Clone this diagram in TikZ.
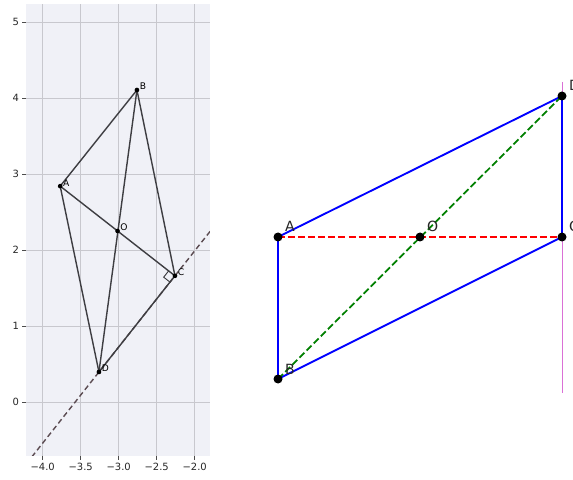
\documentclass[tikz,border=0pt]{standalone}
\usepackage{fontspec}
\setmainfont{DejaVu Sans}
\usetikzlibrary{calc}

\definecolor{axbg}{RGB}{240,241,247}
\definecolor{gridc}{RGB}{200,200,206}
\definecolor{segc}{RGB}{62,62,66}
\definecolor{dashc}{RGB}{92,76,82}
\definecolor{orch}{RGB}{218,112,214}

\begin{document}
\begin{tikzpicture}[
  x=0.03cm, y=0.03cm,
  tick/.style={font=\fontsize{8.5}{9}\selectfont, inner sep=0pt, text=black!85},
  ptlab/.style={font=\fontsize{7.8}{8}\selectfont, inner sep=0pt, anchor=base west, xshift=0.08cm},
  biglab/.style={font=\fontsize{12}{14}\selectfont, inner sep=0pt, anchor=base west, xshift=0.21cm, yshift=0.15cm, text=black!85},
  seg/.style={segc, line width=1.2pt},
  side/.style={blue, line width=1.6pt},
  dsh/.style={line width=1.5pt, dash pattern=on 6pt off 2.6pt},
  dot/.style={fill=black},
]
\useasboundingbox (0,0) rectangle (573,479);
\fill[white] (0,0) rectangle (573,479);

% ===== LEFT: plot with the parallelogram =====
\begin{scope}[shift={(10.401cm,2.31cm)}, x=2.28cm, y=2.28cm]
\fill[axbg] (-4.22,-0.71) rectangle (-1.80,5.24);
\foreach \x/\t in {-4/−4.0,-3.5/−3.5,-3/−3.0,-2.5/−2.5,-2/−2.0}{
  \draw[gridc, line width=0.8pt] (\x,-0.71) -- (\x,5.24);
  \draw[black!70, line width=0.6pt] (\x,-0.71) -- ++(0,-0.12cm);
  \node[tick, anchor=north] (tx\x) at ([yshift=-0.21cm]\x,-0.71) {\t};
}
\foreach \y in {0,...,5}{
  \draw[gridc, line width=0.8pt] (-4.22,\y) -- (-1.80,\y);
  \draw[black!70, line width=0.6pt] (-4.22,\y) -- ++(-0.12cm,0);
  \node[tick, anchor=east] (ty\y) at ([xshift=-0.2cm]-4.22,\y) {\y};
}

\coordinate (A) at (-3.77,2.84);
\coordinate (B) at (-2.76,4.105);
\coordinate (C) at (-2.26,1.66);
\coordinate (D) at (-3.26,0.395);
\coordinate (O) at ($(A)!0.5!(C)$);

% line through D and C
\begin{scope}
\clip (-4.22,-0.71) rectangle (-1.80,5.24);
\coordinate (e1) at ($(D)!-2!(C)$);
\coordinate (e2) at ($(D)!3!(C)$);
\draw[dashc, line width=1.2pt, dash pattern=on 4.5pt off 2.8pt] (e1) -- (e2);
\end{scope}

\draw[seg] (A) -- (B) -- (C) -- (D) -- cycle;
\draw[seg] (A) -- (C);
\draw[seg] (B) -- (D);

% right angle at C
\coordinate (ca) at ($(C)!0.24cm!(A)$);
\coordinate (cd) at ($(C)!0.24cm!(D)$);
\draw[segc, line width=0.8pt] (ca) -- ($(ca)+(cd)-(C)$) -- (cd);

\foreach \p in {A,B,C,D,O}{
  \fill[dot] (\p) circle (0.07cm);
  \node[ptlab] (l\p) at (\p) {\p};
}
\end{scope}

% ===== RIGHT: the same points, redrawn =====
\coordinate (A2) at (278,242);
\coordinate (B2) at (278,100);
\coordinate (C2) at (562,242);
\coordinate (D2) at (562,383);
\coordinate (O2) at (420,242);
\coordinate (v1) at (562,397);
\coordinate (v2) at (562,86);

\draw[orch, line width=0.8pt] (v1) -- (v2);
\draw[side] (A2) -- (D2);
\draw[side] (A2) -- (B2);
\draw[side] (B2) -- (C2);
\draw[side] (C2) -- (D2);
\draw[dsh, red] (A2) -- (C2);
\draw[dsh, green!50!black] (B2) -- (D2);

\foreach \p in {A,B,C,D,O}{
  \fill[dot] (\p2) circle (0.135cm);
  \node[biglab] (r\p) at (\p2) {\p};
}
\end{tikzpicture}
\end{document}
